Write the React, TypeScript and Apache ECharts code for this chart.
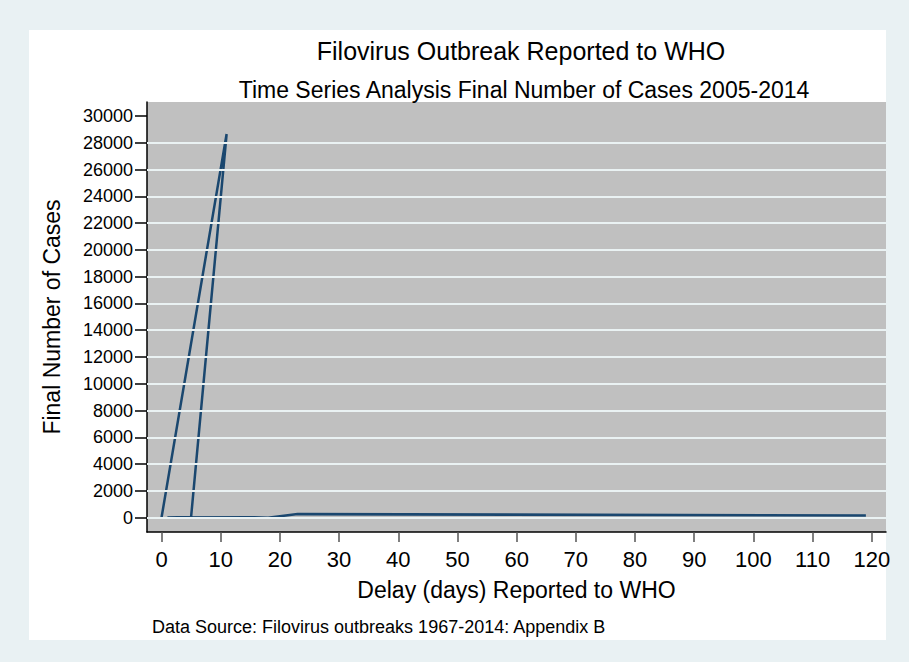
import React, { useEffect, useRef } from "react";
import * as echarts from "echarts";

const delayDays = [0, 11, 5, 1, 15, 18, 23, 119, 82, 24];
const finalCases = [0, 28650, 60, 10, 40, 0, 280, 170, 200, 260];
const yTicks = [0, 2000, 4000, 6000, 8000, 10000, 12000, 14000, 16000, 18000, 20000, 22000, 24000, 26000, 28000, 30000];
const yGridLines = [0, 2000, 4000, 6000, 8000, 10000, 12000, 14000, 16000, 18000, 20000, 22000, 24000, 26000, 28000];
const xTicks = [0, 10, 20, 30, 40, 50, 60, 70, 80, 90, 100, 110, 120];

const FONT = "Liberation Sans, Arial, sans-serif";

export default function App() {
  const ref = useRef<HTMLDivElement>(null);
  useEffect(() => {
    if (!ref.current) return;
    const chart = echarts.init(ref.current, undefined, { renderer: "svg" });
    chart.setOption({
      animation: false,
      backgroundColor: "#e9f1f3",
      textStyle: { fontFamily: FONT },
      title: [
        {
          text: "Filovirus Outbreak Reported to WHO",
          left: 516,
          top: 33,
          textAlign: "center",
          textStyle: { fontFamily: FONT, fontSize: 25, fontWeight: "normal", color: "#000" },
        },
        {
          text: "Time Series Analysis Final Number of Cases 2005-2014",
          left: 519,
          top: 73,
          textAlign: "center",
          textStyle: { fontFamily: FONT, fontSize: 23, fontWeight: "normal", color: "#000" },
        },
      ],
      graphic: [
        {
          type: "rect",
          z: -10,
          silent: true,
          shape: { x: 29, y: 30, width: 857, height: 610 },
          style: { fill: "#ffffff" },
        },
        {
          type: "text",
          x: 152,
          y: 627,
          style: {
            text: "Data Source: Filovirus outbreaks 1967-2014: Appendix B",
            fontFamily: FONT,
            fontSize: 18,
            fill: "#000",
            textVerticalAlign: "middle",
          },
        },
      ],
      grid: {
        left: 147,
        top: 102,
        width: 739,
        height: 430,
        show: true,
        backgroundColor: "#c0c0c0",
        borderWidth: 0,
        z: 0,
      },
      xAxis: {
        type: "value",
        min: -2.45,
        max: 122.4,
        name: "Delay (days) Reported to WHO",
        nameLocation: "middle",
        nameGap: 46,
        nameTextStyle: { fontFamily: FONT, fontSize: 23, color: "#000" },
        axisLine: { show: true, onZero: false, lineStyle: { color: "#000", width: 1.5 } },
        axisTick: { show: true, length: 10, customValues: xTicks, lineStyle: { color: "#555", width: 1.5 } },
        axisLabel: {
          customValues: xTicks,
          formatter: (v: number) => String(v),
          fontFamily: FONT,
          fontSize: 22,
          color: "#000",
          margin: 16,
        },
        splitLine: { show: false },
      },
      yAxis: {
        type: "value",
        min: -1067,
        max: 31045,
        name: "Final Number of Cases",
        nameLocation: "middle",
        nameGap: 84,
        nameTextStyle: { fontFamily: FONT, fontSize: 23, color: "#000" },
        axisLine: { show: true, onZero: false, lineStyle: { color: "#000", width: 1.5 } },
        axisTick: { show: true, length: 12, customValues: yTicks, lineStyle: { color: "#000", width: 1.5 } },
        axisLabel: {
          customValues: yTicks,
          formatter: (v: number) => String(v),
          fontFamily: FONT,
          fontSize: 18,
          color: "#000",
          margin: 14,
        },
        splitLine: { show: false },
      },
      series: [
        {
          type: "line",
          data: [],
          z: 1,
          silent: true,
          markLine: {
            silent: true,
            symbol: "none",
            label: { show: false },
            lineStyle: { color: "#eaf2f3", width: 2, type: "solid" },
            data: yGridLines.map((v) => ({ yAxis: v })),
          },
        },
        {
          type: "line",
          z: 3,
          data: delayDays.map((d, i) => [d, finalCases[i]]),
          showSymbol: false,
          lineStyle: { color: "#1a476f", width: 2.5 },
          itemStyle: { color: "#1a476f" },
        },
      ],
    });
    return () => chart.dispose();
  }, []);
  return (
    <div
      ref={ref}
      style={{ position: "absolute", left: 0, top: 0, width: 909, height: 662 }}
    />
  );
}
